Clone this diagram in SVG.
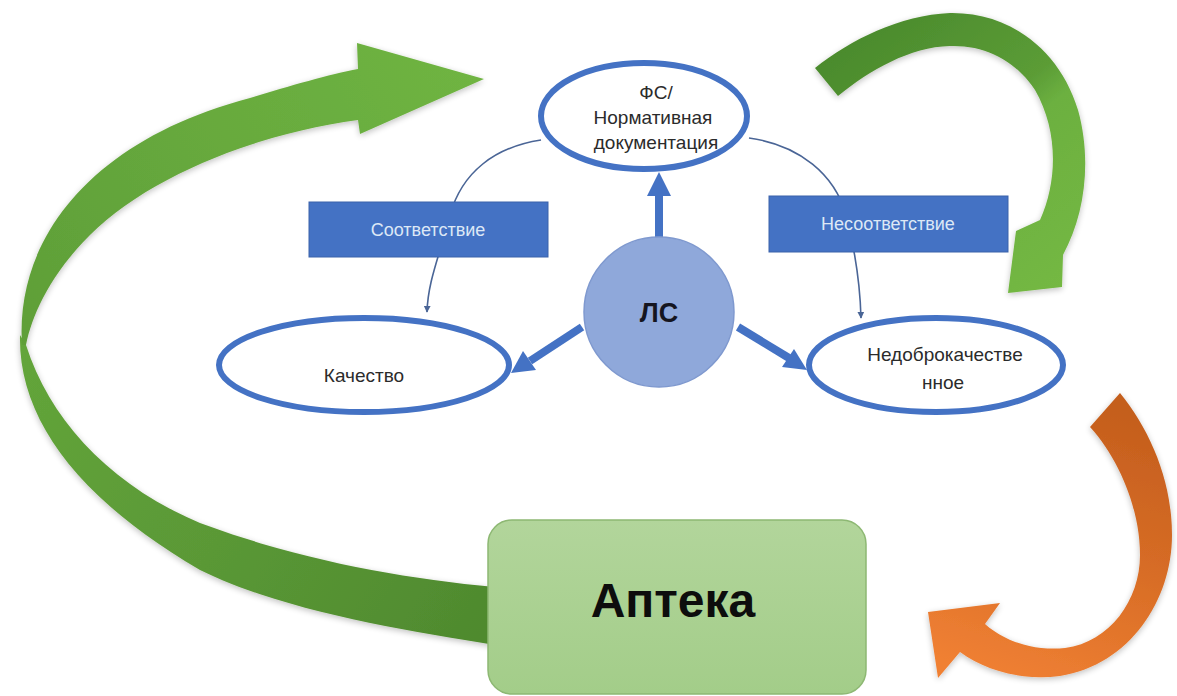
<svg xmlns="http://www.w3.org/2000/svg" width="1177" height="696" viewBox="0 0 1177 696">
<style>
.ell{fill:#ffffff;stroke:#4472c4;stroke-width:6}
.lbl{fill:#2b2b2b;font-family:"Liberation Sans",Arial,sans-serif;font-size:19px;text-anchor:middle}
.box{fill:#4472c4;stroke:#3a62aa;stroke-width:1}
.boxt{fill:#dde8f6;font-family:"Liberation Sans",Arial,sans-serif;font-size:18px;text-anchor:middle}
.con{fill:none;stroke:#4a6596;stroke-width:1.6}
.thick{stroke:#4472c4;stroke-width:8;fill:none}
.head{fill:#4472c4}
</style>
<defs>
<marker id="sm" viewBox="0 0 10 10" refX="9" refY="5" markerWidth="7" markerHeight="7" markerUnits="userSpaceOnUse" orient="auto">
<path d="M0,0 L10,5 L0,10 Z" fill="#4a6596"/>
</marker>
<linearGradient id="gTR" gradientUnits="userSpaceOnUse" x1="850" y1="30" x2="1060" y2="290">
<stop offset="0" stop-color="#4a8a2c"/>
<stop offset="0.45" stop-color="#5b9c36"/>
<stop offset="0.55" stop-color="#6cb040"/>
<stop offset="1" stop-color="#74b843"/>
</linearGradient>
<linearGradient id="gOr" gradientUnits="userSpaceOnUse" x1="1100" y1="400" x2="1000" y2="680">
<stop offset="0" stop-color="#c45e1d"/>
<stop offset="0.5" stop-color="#d86d26"/>
<stop offset="1" stop-color="#f08033"/>
</linearGradient>
<linearGradient id="gUp" gradientUnits="userSpaceOnUse" x1="30" y1="340" x2="480" y2="80">
<stop offset="0" stop-color="#5f9f38"/>
<stop offset="1" stop-color="#6fb442"/>
</linearGradient>
<linearGradient id="gLo" gradientUnits="userSpaceOnUse" x1="20" y1="340" x2="490" y2="620">
<stop offset="0" stop-color="#63a53a"/>
<stop offset="0.5" stop-color="#5a9836"/>
<stop offset="1" stop-color="#4f8a2e"/>
</linearGradient>
<linearGradient id="gAp" x1="0" y1="0" x2="0" y2="1">
<stop offset="0" stop-color="#b2d59b"/>
<stop offset="1" stop-color="#a3cd89"/>
</linearGradient>
<filter id="sh" x="-10%" y="-10%" width="120%" height="120%">
<feGaussianBlur in="SourceAlpha" stdDeviation="3"/>
<feOffset dx="0" dy="2" result="b"/>
<feComponentTransfer><feFuncA type="linear" slope="0.25"/></feComponentTransfer>
<feMerge><feMergeNode/><feMergeNode in="SourceGraphic"/></feMerge>
</filter>
</defs>

<g id="big-green-arrow" filter="url(#sh)">
<path d="M20 335 C18 420 80 500 200 570 C280 610 400 630 495 645 L495 587 C400 578 300 560 200 523 C110 485 50 420 26 345 Z" fill="url(#gLo)"/>
<path d="M22 345 C15 240 90 140 250 98 C290 86 330 74 358 69 L357 43 L484 79 L360 134 L358 120 C260 133 150 175 90 235 C50 275 32 315 26 345 Z" fill="url(#gUp)"/>
</g>

<g id="top-right-arrow" filter="url(#sh)">
<path d="M815 68 C850 40 900 15 950 13 C1010 12 1060 50 1078 110 C1092 160 1085 215 1063 255 L1062 287 L1008 293 L1016 231 L1040 220 C1058 180 1058 130 1035 90 C1015 60 985 45 950 46 C910 47 870 70 838 96 Z" fill="url(#gTR)"/>
</g>

<g id="orange-arrow" filter="url(#sh)">
<path d="M1120 393 C1150 430 1172 480 1172 535 C1172 600 1130 665 1060 676 C1020 681 985 670 960 652 L938 678 L928 612 L1000 603 L985 624 C1005 642 1035 651 1065 648 C1110 642 1140 600 1140 555 C1140 510 1120 460 1090 427 Z" fill="url(#gOr)"/>
</g>

<g id="connectors">
<path class="con" d="M541 140 C495 147 462 172 450 215 C440 255 428 280 427 312" marker-end="url(#sm)"/>
<path class="con" d="M749 138 C800 145 835 175 846 215 C855 250 860 280 861 318" marker-end="url(#sm)"/>
<line class="thick" x1="659" y1="238" x2="659" y2="193"/>
<polygon class="head" points="659,172 671,196 647,196"/>
<line class="thick" x1="582" y1="327" x2="530" y2="361"/>
<polygon class="head" points="511,373 523,351 536,370"/>
<line class="thick" x1="738" y1="327" x2="789" y2="358"/>
<polygon class="head" points="807,370 794,349 782,367"/>
</g>

<g id="fs-node">
<ellipse class="ell" cx="644" cy="116" rx="103" ry="53"/>
<text class="lbl" x="656" y="99">ФС/</text>
<text class="lbl" x="653" y="124">Нормативная</text>
<text class="lbl" x="656" y="149">документация</text>
</g>

<g id="match-label">
<rect class="box" x="309" y="202" width="239" height="55"/>
<text class="boxt" x="428" y="236">Соответствие</text>
</g>

<g id="mismatch-label">
<rect class="box" x="769" y="196" width="239" height="56"/>
<text class="boxt" x="888" y="230">Несоответствие</text>
</g>

<g id="quality-node">
<ellipse class="ell" cx="364" cy="365" rx="145" ry="47"/>
<text class="lbl" x="364" y="382">Качество</text>
</g>

<g id="ls-node">
<circle cx="659" cy="312" r="75" fill="#8fa8da" stroke="#7f99cf" stroke-width="1.5"/>
<text x="659" y="322" fill="#15151f" font-family="'Liberation Sans',Arial,sans-serif" font-size="27" font-weight="bold" text-anchor="middle">ЛС</text>
</g>

<g id="bad-node">
<ellipse class="ell" cx="936" cy="365" rx="127" ry="47"/>
<text class="lbl" x="945" y="361">Недоброкачестве</text>
<text class="lbl" x="943" y="389">нное</text>
</g>

<g id="apteka-node">
<rect x="488" y="520" width="378" height="174" rx="24" fill="url(#gAp)" stroke="#8db873" stroke-width="1.5"/>
<text x="673" y="617" fill="#0d0d0d" font-family="'Liberation Sans',Arial,sans-serif" font-size="48" font-weight="bold" text-anchor="middle">Аптека</text>
</g>
</svg>
